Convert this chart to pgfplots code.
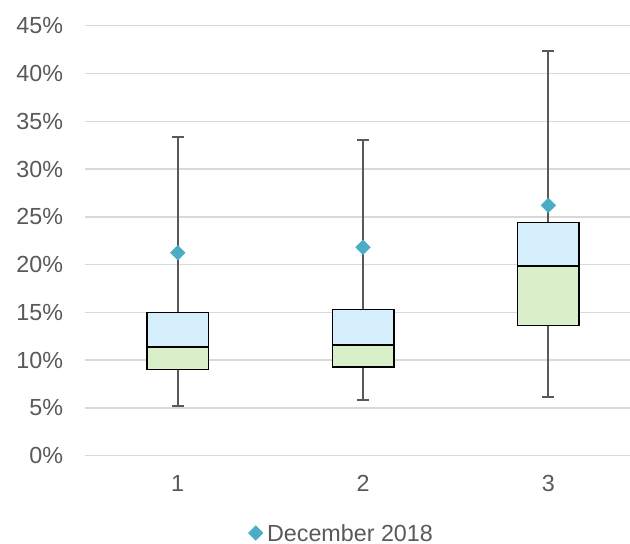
\documentclass[border=0pt]{standalone}
\usepackage{fontspec}
\setmainfont{Liberation Sans}
\usepackage{pgfplots}
\pgfplotsset{compat=1.18}
\definecolor{txt}{HTML}{595959}
\definecolor{grid}{HTML}{D9D9D9}
\definecolor{boxblue}{HTML}{D4EEFC}
\definecolor{boxgreen}{HTML}{D9EFC9}
\definecolor{dia}{HTML}{4BACC6}
\definecolor{whisk}{HTML}{595959}
\begin{document}
\fontsize{23.3bp}{28bp}\selectfont
\begin{tikzpicture}
\useasboundingbox (-85bp,-88.3bp) rectangle (545bp,455.7bp);
\begin{axis}[
  at={(0,0)}, anchor=south west,
  scale only axis, width=545bp, height=430bp,
  xmin=0.5, xmax=3.44, ymin=0, ymax=45,
  axis line style={draw=none},
  major tick length=0pt,
  xtick={1,2,3}, ytick={0,5,...,45},
  ymajorgrids, grid style={draw=grid, line width=1.5bp},
  tick label style={text=txt, font=\fontsize{23.3bp}{28bp}\selectfont},
  /pgf/number format/assume math mode=true,
  yticklabel={\pgfmathprintnumber{\tick}\%},
  yticklabel style={xshift=-14bp},
  xticklabel style={yshift=-12bp},
  legend style={at={(0.47,-0.18)}, anchor=center, draw=none, fill=none,
    font=\fontsize{23.3bp}{28bp}\selectfont, text=txt,
    legend cell align=left, inner sep=1bp,
    nodes={inner sep=1bp, text depth=0pt}},
  legend image code/.code={\draw[#1] plot coordinates {(0bp,0bp)};},
]
% whiskers
\addplot[draw=none, mark=none, forget plot,
  error bars/.cd, y dir=both, y explicit,
  error bar style={draw=whisk, line width=2bp},
  error mark=|, error mark options={draw=whisk, line width=2bp, mark size=6bp}]
  coordinates {
  (1,19.275) +- (0,14.105)
  (2,19.45) +- (0,13.62)
  (3,24.23) +- (0,18.12)
  };
% lower boxes (Q1 to median)
\addplot[fill=boxgreen, draw=black, line width=1.5bp, forget plot] coordinates {(0.834,9.04)(1.166,9.04)(1.166,11.37)(0.834,11.37)} -- cycle;
\addplot[fill=boxgreen, draw=black, line width=1.5bp, forget plot] coordinates {(1.834,9.28)(2.166,9.28)(2.166,11.58)(1.834,11.58)} -- cycle;
\addplot[fill=boxgreen, draw=black, line width=1.5bp, forget plot] coordinates {(2.834,13.65)(3.166,13.65)(3.166,19.85)(2.834,19.85)} -- cycle;
% upper boxes (median to Q3)
\addplot[fill=boxblue, draw=black, line width=1.5bp, forget plot] coordinates {(0.834,11.37)(1.166,11.37)(1.166,15.0)(0.834,15.0)} -- cycle;
\addplot[fill=boxblue, draw=black, line width=1.5bp, forget plot] coordinates {(1.834,11.58)(2.166,11.58)(2.166,15.28)(1.834,15.28)} -- cycle;
\addplot[fill=boxblue, draw=black, line width=1.5bp, forget plot] coordinates {(2.834,19.85)(3.166,19.85)(3.166,24.42)(2.834,24.42)} -- cycle;
% December 2018
\addplot[only marks, mark=square*, mark size=5.2bp, mark options={rotate=45, fill=dia, draw=dia}]
  coordinates {(1,21.24) (2,21.81) (3,26.2)};
\addlegendentry{\hspace{3bp}December 2018}
\end{axis}
\end{tikzpicture}
\end{document}
